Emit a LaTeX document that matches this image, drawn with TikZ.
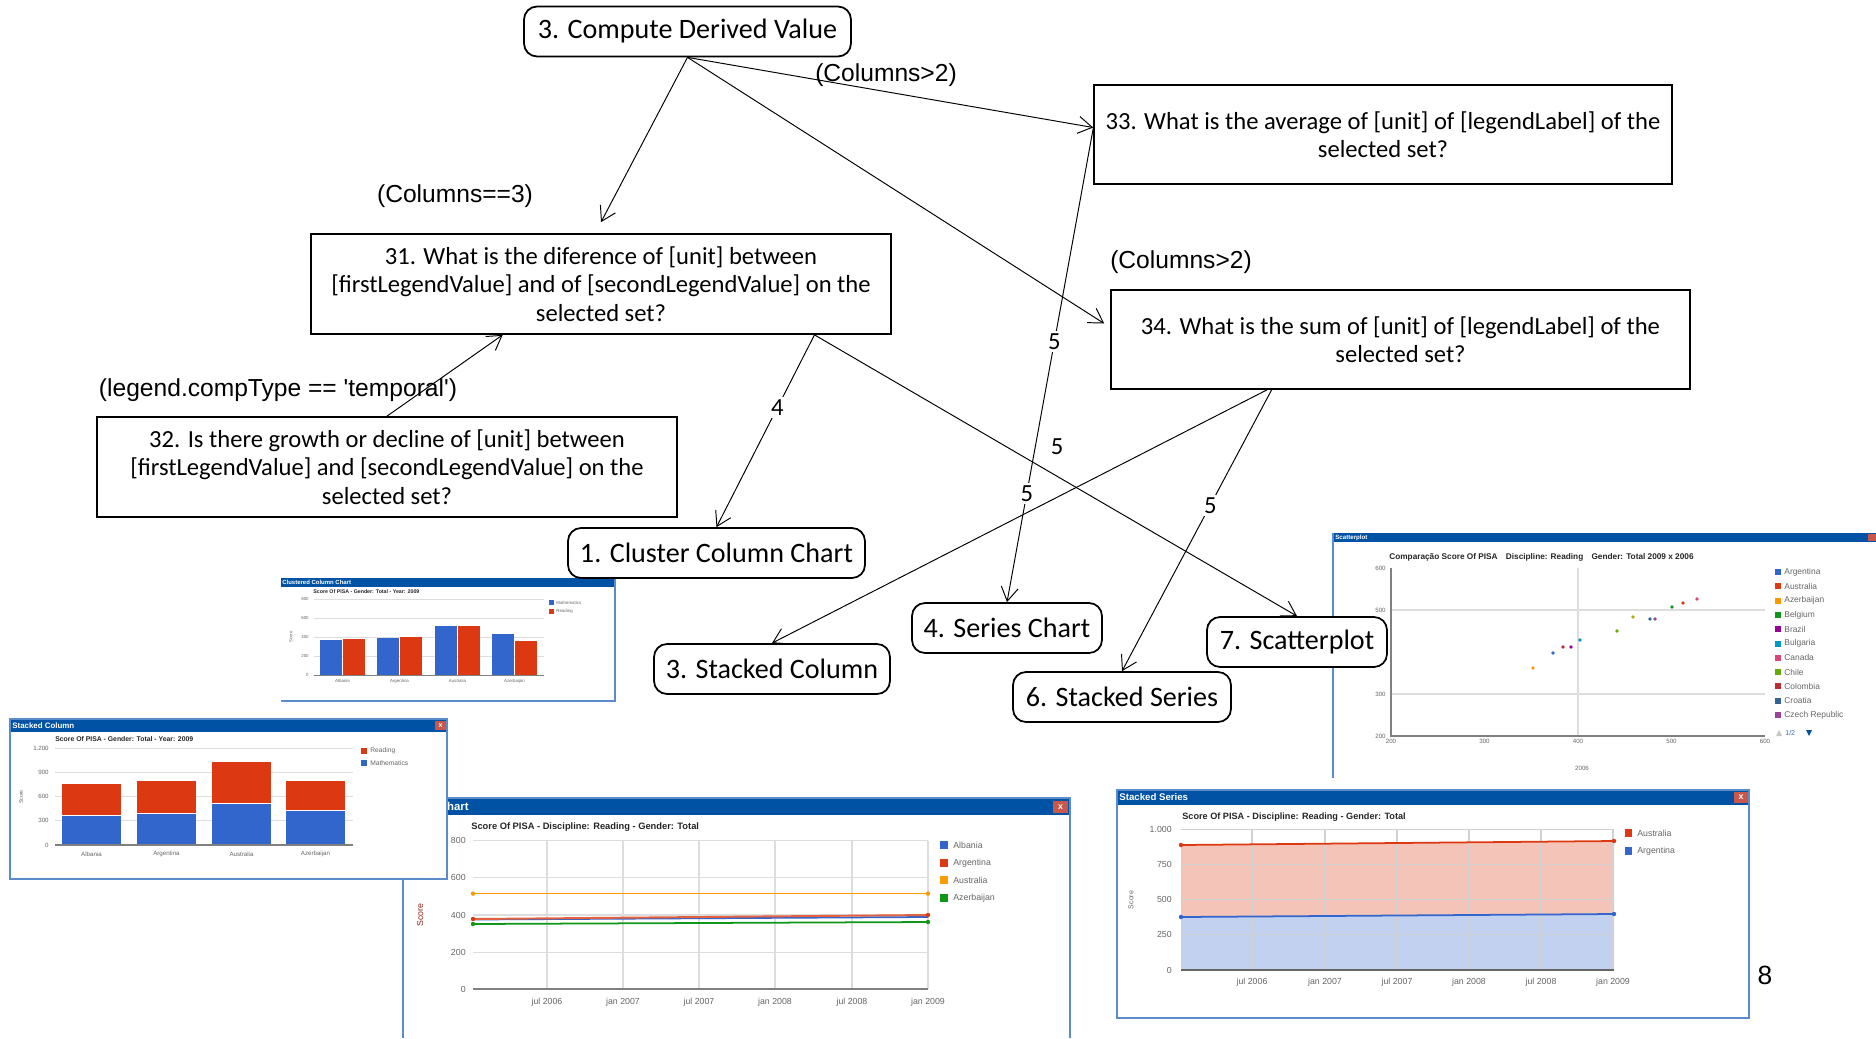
\documentclass[tikz,border=0pt]{standalone}
\usepackage{fontspec}
\setmainfont{Carlito}
\newfontfamily\arialfont{Liberation Sans}
\usetikzlibrary{arrows.meta}
\usetikzlibrary{calc}

\definecolor{winblue}{HTML}{0053A4}
\definecolor{winedge}{HTML}{5A8CCB}
\definecolor{closered}{HTML}{C9574B}
\definecolor{gridgray}{HTML}{DDDDDD}
\definecolor{tickgray}{HTML}{666666}
\definecolor{sblue}{HTML}{3366CC}
\definecolor{sred}{HTML}{DC3912}
\definecolor{sorange}{HTML}{FF9900}
\definecolor{sgreen}{HTML}{109618}
\definecolor{spurple}{HTML}{990099}
\definecolor{scyan}{HTML}{0099C6}
\definecolor{spink}{HTML}{DD4477}
\definecolor{slime}{HTML}{66AA00}
\definecolor{sbrick}{HTML}{B82E2E}
\definecolor{ssteel}{HTML}{316395}
\definecolor{smauve}{HTML}{994499}
\definecolor{solive}{HTML}{AAAA11}

\begin{document}
\begin{tikzpicture}[x=0.02cm, y=-0.02cm,
  charttype/.style={draw, line width=1pt, rounded corners=2.6mm, fill=white, inner sep=0pt, minimum height=1cm, font=\fontsize{16}{19}\selectfont},
  question/.style={draw, line width=1pt, fill=white, inner sep=0pt, align=center, minimum width=11.6cm, minimum height=2cm, font=\fontsize{14}{16.2}\selectfont},
  cond/.style={inner sep=0pt, font=\arialfont\fontsize{14}{16}\selectfont},
  weight/.style={fill=white, inner sep=1.5pt, font=\fontsize{14}{16}\selectfont},
  link/.style={line width=0.55pt, -{Straight Barb[length=2.8mm, width=3.4mm]}},
  shottxt/.style={inner sep=0pt, text=tickgray, font=\arialfont\fontsize{#1}{#1}\selectfont},
  shotbold/.style={inner sep=0pt, text=black!85, font=\arialfont\bfseries\fontsize{#1}{#1}\selectfont},
  shottitle/.style={inner sep=0pt, anchor=west, text=white, font=\arialfont\bfseries\fontsize{#1}{#1}\selectfont}]
\useasboundingbox (0,0) rectangle (1876,1038);

% series chart screenshot
\fill[white] (403,798) rectangle (1070,1038);
\fill[winblue] (403,798) rectangle (1070,815);
\draw[winedge, line width=0.8pt] (403,1038) -- (403,798) -- (1070,798) -- (1070,1038);
\node[shottitle=6.5, anchor=east] (sct) at (469,806.5) {Series Chart};
\fill[closered] (1053,801) rectangle (1068,813);
\node[shottitle=5, anchor=center] (scx) at (1060.5,807) {x};
\node[shotbold=5.3, anchor=west] (scs) at (471,827) {Score Of PISA - Discipline: Reading - Gender: Total};
\foreach \v in {0,200,400,600,800} {
  \draw[gridgray, line width=0.6pt] (473,989.3-\v*0.1858) -- (928,989.3-\v*0.1858);
  \node[shottxt=5, anchor=east] (scy\v) at (466,989.3-\v*0.1858) {\v};
}
\foreach \x/\d in {547/jul 2006, 623/jan 2007, 699/jul 2007, 775/jan 2008, 852/jul 2008, 928/jan 2009} {
  \draw[gridgray, line width=0.6pt] (\x,841) -- (\x,989);
  \node[shottxt=5] (scd\x) at (\x,1002) {\d};
}
\draw[gray, line width=0.9pt] (473,989) -- (928,989);
\draw[sorange, line width=1pt] (473,893.6) -- (928,893.6);
\draw[sblue, line width=1pt] (473,919.5) -- (928,917);
\draw[sred!80, line width=1.1pt] (473,919) -- (928,915);
\draw[sgreen, line width=1pt] (473,924) -- (928,922);
\foreach \y/\z/\c in {893.6/893.6/sorange, 919/915/sred, 924/922/sgreen} {
  \fill[\c] (473,\y) circle[radius=2.2];
  \fill[\c] (928,\z) circle[radius=2.2];
}
\foreach \y/\c/\n in {845/sblue/Albania, 863/sred/Argentina, 880/sorange/Australia, 898/sgreen/Azerbaijan} {
  \fill[\c] (940,\y-4) rectangle (948,\y+4);
  \node[shottxt=5, anchor=west] (scl\y) at (953,\y) {\n};
}
\node[shottxt=5, text=sbrick!80!black, rotate=90] (sca) at (420,915) {Score};

% stacked column screenshot
\fill[white] (10,719) rectangle (447,879);
\fill[winblue] (10,719) rectangle (447,732);
\draw[winedge, line width=0.8pt] (10,719) rectangle (447,879);
\node[shottitle=4.5] (skt) at (12,725.5) {Stacked Column};
\fill[closered] (435,721) rectangle (446,730);
\node[shottitle=4, anchor=center] (skx) at (440.5,725.5) {x};
\node[shotbold=3.9, anchor=west] (sks) at (55,739) {Score Of PISA - Gender: Total - Year: 2009};
\foreach \v/\t in {0/0, 300/300, 600/600, 900/900, 1200/1.200} {
  \draw[gridgray, line width=0.5pt] (55,845-\v*0.0808) -- (353,845-\v*0.0808);
  \node[shottxt=3.5, anchor=east] (sky\v) at (49,845-\v*0.0808) {\t};
}
\foreach \x/\m/\s/\n in {62/370/760/Albania, 137/390/790/Argentina, 212/515/1030/Australia, 286/430/790/Azerbaijan} {
  \fill[sblue] (\x,845) rectangle (\x+59,845-\m*0.0808);
  \fill[sred] (\x,845-\m*0.0808) rectangle (\x+59,845-\s*0.0808);
  \draw[white, line width=0.4pt] (\x,845-\m*0.0808) -- (\x+59,845-\m*0.0808);
  \node[shottxt=3.5] (skc\x) at (\x+29.5,854) {\n};
}
\draw[gray, line width=0.6pt] (55,845) -- (353,845);
\fill[sred] (361,748) rectangle (367,754);
\node[shottxt=3.8, anchor=west] (skl1) at (370,751) {Reading};
\fill[sblue] (361,760) rectangle (367,766);
\node[shottxt=3.8, anchor=west] (skl2) at (370,763) {Mathematics};
\node[shottxt=3, rotate=90] (ska) at (21,797) {Score};

% clustered column screenshot
\fill[white] (281,578) rectangle (615,701);
\fill[winblue] (281,578) rectangle (615,587);
\draw[winedge, line width=0.7pt] (615,578) -- (615,701) -- (281,701);
\node[shottitle=3.4] (cct) at (282,582.5) {Clustered Column Chart};
\node[shotbold=3, anchor=west] (ccs) at (313,592) {Score Of PISA - Gender: Total - Year: 2009};
\foreach \v in {0,200,400,600,800} {
  \draw[gridgray, line width=0.4pt] (314,675-\v*0.095) -- (544,675-\v*0.095);
  \node[shottxt=2.5, anchor=east] (ccy\v) at (309,675-\v*0.095) {\v};
}
\foreach \x/\m/\r/\n in {320/370/380/Albania, 377/390/400/Argentina, 435/515/515/Australia, 492/430/360/Azerbaijan} {
  \fill[sblue] (\x,675) rectangle (\x+22,675-\m*0.095);
  \fill[sred] (\x+23,675) rectangle (\x+45,675-\r*0.095);
  \node[shottxt=2.5] (ccc\x) at (\x+22.5,681) {\n};
}
\draw[gray, line width=0.5pt] (314,675) -- (544,675);
\fill[sblue] (549,600) rectangle (554,605);
\node[shottxt=2.5, anchor=west] (ccl1) at (556,602.5) {Mathematics};
\fill[sred] (549,609) rectangle (554,614);
\node[shottxt=2.5, anchor=west] (ccl2) at (556,611.5) {Reading};
\node[shottxt=2.4, rotate=90] (cca) at (291,637) {Score};

% scatterplot screenshot
\fill[white] (1333,533) rectangle (1876,778);
\fill[winblue] (1333,533) rectangle (1876,542);
\draw[winedge, line width=0.8pt] (1333,778) -- (1333,533);
\node[shottitle=3.5] (spt) at (1335,537.5) {Scatterplot};
\fill[closered] (1868,534) rectangle (1876,541);
\node[shotbold=4.7, anchor=west] (sps) at (1389,557) {Comparação Score Of PISA\quad Discipline: Reading\quad Gender: Total 2009 x 2006};
\foreach \v in {500,300} \draw[gridgray, line width=0.6pt] (1391,820-\v*0.42) -- (1765,820-\v*0.42);
\draw[gridgray, line width=0.6pt] (1578,568) -- (1578,736);
\draw[gray, line width=0.7pt] (1391,568) -- (1391,736) -- (1765,736);
\foreach \v in {600,500,300,200} \node[shottxt=3.5, anchor=east] (spy\v) at (1386,820-\v*0.42) {\v};
\foreach \v in {200,300,400,500,600} \node[shottxt=3.5] (spx\v) at (1204+\v*0.935,741) {\v};
\node[shottxt=3.5] (spa) at (1582,768) {2006};
\foreach \x/\y/\c in {1533/668/sorange, 1553/653/sblue, 1563/647/sbrick, 1571/647/spurple, 1580/640/scyan, 1617/631/slime, 1633/617/solive, 1650/619/ssteel, 1655/619/smauve, 1672/607/sgreen, 1683/603/sred, 1697/599/spink}
  \fill[\c] (\x,\y) circle[radius=1.9];
\foreach \n/\c [count=\i from 0] in {Argentina/sblue, Australia/sred, Azerbaijan/sorange, Belgium/sgreen, Brazil/spurple, Bulgaria/scyan, Canada/spink, Chile/slime, Colombia/sbrick, Croatia/ssteel, Czech Republic/smauve} {
  \fill[\c] (1775,572+\i*14.3-3) rectangle (1781,572+\i*14.3+3);
  \node[shottxt=4.8, anchor=west] (spl\i) at (1784,572+\i*14.3) {\n};
}
\fill[gray!45] (1776,736) -- (1782,736) -- (1779,730) -- cycle;
\node[shottxt=4, text=sblue, anchor=west] (spg) at (1785,733) {1/2};
\fill[winblue] (1806,730) -- (1812,730) -- (1809,736) -- cycle;

% stacked series screenshot
\fill[white] (1117,790) rectangle (1749,1018);
\fill[winblue] (1117,790) rectangle (1749,805);
\draw[winedge, line width=0.8pt] (1117,790) rectangle (1749,1018);
\node[shottitle=5.5] (sst) at (1119,797.5) {Stacked Series};
\fill[closered] (1734,792) rectangle (1748,803);
\node[shottitle=5, anchor=center] (ssx) at (1741,797.5) {x};
\node[shotbold=5.2, anchor=west] (sss) at (1182,817) {Score Of PISA - Discipline: Reading - Gender: Total};
\fill[sred!30] (1181,845) -- (1614,841) -- (1614,914) -- (1181,917) -- cycle;
\fill[sblue!30] (1181,917) -- (1614,914) -- (1614,970) -- (1181,970) -- cycle;
\foreach \v/\t in {0/0, 250/250, 500/500, 750/750, 1000/1.000} {
  \draw[black!18, line width=0.6pt] (1181,970-\v*0.1405) -- (1614,970-\v*0.1405);
  \node[shottxt=5, anchor=east] (ssy\v) at (1172,970-\v*0.1405) {\t};
}
\foreach \x/\d in {1252/jul 2006, 1325/jan 2007, 1397/jul 2007, 1469/jan 2008, 1541/jul 2008, 1613/jan 2009} {
  \draw[black!18, line width=0.6pt] (\x,829.5) -- (\x,970);
  \node[shottxt=5] (ssd\x) at (\x,982) {\d};
}
\draw[sred, line width=1pt] (1181,845) -- (1614,841);
\draw[sblue, line width=1pt] (1181,917) -- (1614,914);
\fill[sred] (1181,845) circle[radius=2.2];
\fill[sred] (1614,841) circle[radius=2.2];
\fill[sblue] (1181,917) circle[radius=2.2];
\fill[sblue] (1614,914) circle[radius=2.2];
\draw[gray!80!black, line width=0.9pt] (1181,970) -- (1614,970);
\fill[sred] (1625,829) rectangle (1632,837);
\node[shottxt=5, anchor=west] (ssl1) at (1637,833) {Australia};
\fill[sblue] (1625,847) rectangle (1632,855);
\node[shottxt=5, anchor=west] (ssl2) at (1637,851) {Argentina};
\node[shottxt=4, rotate=90] (ssa) at (1131,900) {Score};

\node[inner sep=0pt, font=\arialfont\fontsize{15}{18}\selectfont] (pagenum) at (1765,975) {8};

% task and chart nodes
\node[charttype, minimum width=6.54cm] (n3) at (687.5,31.5) {3. Compute Derived Value};
\node[question] (q31) at (601,284) {31. What is the diference of [unit] between\\{[firstLegendValue]} and of [secondLegendValue] on the\\selected set?};
\node[question] (q32) at (387,467) {32. Is there growth or decline of [unit] between\\{[firstLegendValue]} and [secondLegendValue] on the\\selected set?};
\node[question, minimum width=11.56cm, minimum height=1.98cm] (q33) at (1383,134.5) {33. What is the average of [unit] of [legendLabel] of the\\selected set?};
\node[question, minimum width=11.58cm, minimum height=1.98cm] (q34) at (1400.5,339.5) {34. What is the sum of [unit] of [legendLabel] of the\\selected set?};
\node[charttype, minimum width=5.94cm] (cluster) at (716.5,553) {1. Cluster Column Chart};
\node[charttype, minimum width=4.72cm] (stcol) at (772,669) {3. Stacked Column};
\node[charttype, minimum width=3.8cm] (series) at (1007,628) {4. Series Chart};
\node[charttype, minimum width=3.6cm] (scatter) at (1297,642) {7. Scatterplot};
\node[charttype, minimum width=4.36cm] (stser) at (1122,697) {6. Stacked Series};

\node[cond] (c1) at (886,75) {(Columns>2)};
\node[cond] (c2) at (455,196) {(Columns==3)};
\node[cond] (c3) at (1181,262) {(Columns>2)};
\node[cond] (c4) at (278,390) {(legend.compType == \textquotesingle temporal\textquotesingle)};

\draw[link] (n3.south) -- ($(q31.north)+(0,-11)$);
\draw[link] (n3.south) -- ($(q33.west)+(0,-7)$);
\draw[link] (n3.south) -- ($(q34.west)+(-6,-16)$);
\draw[link] (q32.north) -- ($(q31.south west)!0.331!(q31.south east)$);
\draw[link] ($(q31.south west)!0.867!(q31.south east)$) -- node[weight, pos=0.38] (w4) {4} (cluster.north);
\draw[link] ($(q31.south west)!0.867!(q31.south east)$) -- (scatter.north);
\draw[link] ($(q33.west)+(0,-6)$) -- node[weight, pos=0.45] (w5a) {5} node[weight, pos=0.77] (w5b) {5} (series.north);
\draw[link] ($(q34.south west)!0.27!(q34.south east)$) -- (stcol.north);
\draw[link] ($(q34.south west)!0.278!(q34.south east)$) -- node[weight, pos=0.41] (w5c) {5} (stser.north);
\node[weight] (w5d) at (1057,447) {5};
\end{tikzpicture}
\end{document}
